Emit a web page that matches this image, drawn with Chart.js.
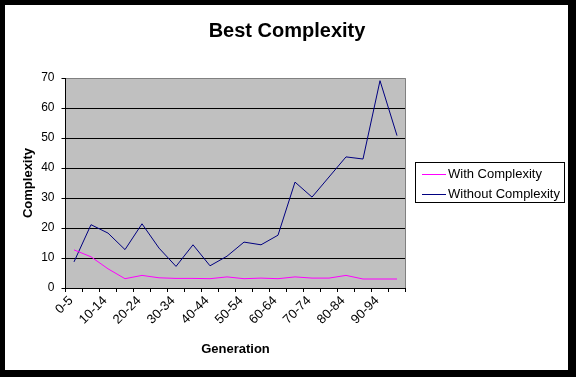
<!DOCTYPE html>
<html>
<head>
<meta charset="utf-8">
<script src="https://cdn.jsdelivr.net/npm/chart.js@4/dist/chart.umd.min.js"></script>
<style>
  body { margin: 0; background: #000; }
  canvas { display: block; }
</style>
</head>
<body>
<canvas id="chartCanvas" width="576" height="377"></canvas>
<script>
// Chart data
var categories = ['0-5', '5-9', '10-14', '15-19', '20-24', '25-29', '30-34', '35-39', '40-44', '45-49',
                  '50-54', '55-59', '60-64', '65-69', '70-74', '75-79', '80-84', '85-89', '90-94', '95-99'];
var withComplexity = [12.7, 10.4, 6.4, 3.1, 4.2, 3.4, 3.2, 3.2, 3.1, 3.7,
                      3.1, 3.3, 3.1, 3.7, 3.3, 3.3, 4.2, 3.0, 3.0, 3.0];
var withoutComplexity = [8.7, 21.1, 18.3, 12.8, 21.4, 13.3, 7.2, 14.4, 7.4, 10.6,
                         15.3, 14.4, 17.6, 35.3, 30.3, 37.0, 43.7, 43.0, 69.1, 50.8];
var yTicks = [0, 10, 20, 30, 40, 50, 60, 70];

var FONT = "'Liberation Sans', Arial, sans-serif";

// Draws the frame, plot background, title and legend
var excelLook = {
  id: 'excelLook',
  beforeDraw: function(chart) {
    var ctx = chart.ctx;
    var a = chart.chartArea;
    ctx.save();
    ctx.fillStyle = '#000';
    ctx.fillRect(0, 0, 576, 377);
    ctx.fillStyle = '#fff';
    ctx.fillRect(5, 5, 563, 365);
    ctx.fillStyle = '#c0c0c0';
    ctx.fillRect(a.left, a.top, a.right - a.left, a.bottom - a.top);
    ctx.restore();
  },
  beforeDatasetsDraw: function(chart) {
    var ctx = chart.ctx;
    var a = chart.chartArea;
    ctx.save();
    ctx.strokeStyle = '#808080';
    ctx.lineWidth = 1;
    ctx.beginPath();
    ctx.moveTo(Math.round(a.left) + 0.5, Math.round(a.top) + 0.5);
    ctx.lineTo(Math.round(a.right) - 0.5, Math.round(a.top) + 0.5);
    ctx.lineTo(Math.round(a.right) - 0.5, Math.round(a.bottom));
    ctx.stroke();
    ctx.restore();
  },
  afterDraw: function(chart) {
    var ctx = chart.ctx;
    ctx.save();
    // title
    ctx.fillStyle = '#000';
    ctx.font = 'bold 20px ' + FONT;
    ctx.textAlign = 'center';
    ctx.textBaseline = 'middle';
    ctx.fillText('Best Complexity', 287, 31);

    // legend
    var lx = 415, ly = 162, lw = 150, lh = 41;
    ctx.fillStyle = '#fff';
    ctx.fillRect(lx, ly, lw, lh);
    ctx.strokeStyle = '#000';
    ctx.lineWidth = 1;
    ctx.strokeRect(lx + 0.5, ly + 0.5, lw - 1, lh - 1);
    ctx.font = '13px ' + FONT;
    ctx.textAlign = 'left';
    var rows = [174.5, 194.5];
    chart.data.datasets.forEach(function(ds, i) {
      ctx.strokeStyle = ds.borderColor;
      ctx.beginPath();
      ctx.moveTo(422, rows[i]);
      ctx.lineTo(446, rows[i]);
      ctx.stroke();
      ctx.fillStyle = '#000';
      ctx.fillText(ds.label, 448, rows[i]);
    });
    ctx.restore();
  }
};

var chart = new Chart(document.getElementById('chartCanvas'), {
  type: 'line',
  data: {
    labels: categories,
    datasets: [{
      label: 'With Complexity',
      data: withComplexity,
      borderColor: '#ff00ff',
      borderWidth: 1,
      pointRadius: 0,
      tension: 0
    }, {
      label: 'Without Complexity',
      data: withoutComplexity,
      borderColor: '#000080',
      borderWidth: 1,
      pointRadius: 0,
      tension: 0
    }]
  },
  options: {
    responsive: false,
    animation: false,
    layout: { padding: { left: 5, top: 78, right: 170.5, bottom: 0 } },
    plugins: {
      legend: { display: false },
      title: { display: false },
      tooltip: { enabled: false }
    },
    scales: {
      x: {
        offset: true,
        grid: { offset: true, drawOnChartArea: false, drawTicks: true, tickLength: 4, color: '#000' },
        border: { display: true, color: '#000' },
        ticks: {
          autoSkip: false,
          minRotation: 45,
          maxRotation: 45,
          padding: 1,
          labelOffset: -3,
          color: '#000',
          font: { family: FONT, size: 13 },
          callback: function(val, i) { return i % 2 === 0 ? categories[i] : ''; }
        },
        title: {
          display: true,
          text: 'Generation',
          color: '#000',
          font: { family: FONT, size: 13, weight: 'bold' },
          padding: { top: 0, bottom: 20 }
        },
        afterFit: function(scale) { scale.height = 89; }
      },
      y: {
        min: 0,
        max: 70,
        afterBuildTicks: function(scale) {
          scale.ticks = yTicks.map(function(v) { return { value: v }; });
        },
        grid: {
          color: function(c) { return c.tick && c.tick.value === 70 ? '#808080' : '#000'; },
          tickColor: '#000',
          tickLength: 4
        },
        border: { display: true, color: '#000' },
        ticks: {
          padding: 7,
          color: '#000',
          font: { family: FONT, size: 12 }
        },
        title: {
          display: true,
          text: 'Complexity',
          color: '#000',
          font: { family: FONT, size: 13, weight: 'bold' },
          padding: { top: 16, bottom: 4 }
        },
        afterFit: function(scale) { scale.width = 60.5; }
      }
    }
  },
  plugins: [excelLook]
});
</script>
</body>
</html>
